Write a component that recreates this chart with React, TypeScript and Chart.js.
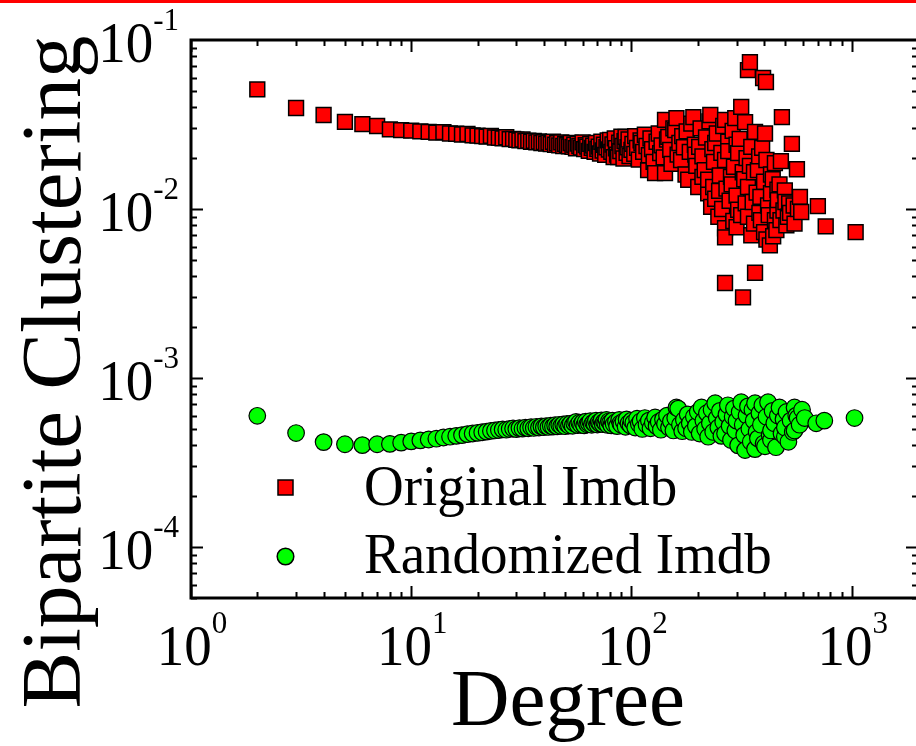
import { useEffect, useRef } from 'react';
import { Chart, registerables } from 'chart.js';

Chart.register(...registerables);

// Original network: degree and bipartite clustering
const originalDegree = [
  2, 3, 4, 5, 6, 7, 8, 9, 10, 11, 12, 13, 14, 15, 16, 17, 18, 19, 20, 21, 22, 23, 24, 25, 26, 27, 28, 29, 30,
  31, 32, 33, 34, 35, 36, 37, 38, 39, 40, 41, 42, 43, 44, 45, 46, 47, 48, 49, 50, 51, 52, 53, 54, 55, 56, 57,
  58, 59, 60, 61, 62, 63, 64, 65, 66, 67, 68, 69, 70, 71, 72, 73, 74, 75, 76, 77, 78, 79, 80, 81, 82, 83, 84,
  85, 86, 87, 88, 89, 90, 91, 92, 93, 94, 95, 96, 97, 98, 100, 101, 103, 104, 106, 108, 110, 111, 113, 115,
  117, 119, 120, 122, 124, 126, 128, 130, 133, 135, 137, 140, 142, 142, 145, 147, 150, 152, 155, 158, 160,
  162, 165, 168, 170, 173, 176, 178, 181, 184, 187, 191, 194, 195, 197, 201, 203, 206, 210, 210, 215, 218,
  223, 223, 226, 228, 230, 233, 235, 237, 240, 240, 244, 248, 250, 252, 256, 258, 261, 266, 266, 266, 266,
  266, 270, 275, 275, 279, 283, 285, 288, 290, 292, 296, 300, 300, 300, 305, 305, 310, 315, 315, 320, 321,
  325, 328, 330, 333, 338, 338, 338, 345, 345, 350, 350, 355, 360, 360, 364, 364, 370, 375, 380, 381, 385,
  387, 392, 396, 400, 400, 404, 408, 410, 410, 417, 420, 425, 430, 430, 438, 440, 448, 448, 455, 460, 460,
  462, 470, 475, 477, 482, 490, 497, 500, 505, 513, 520, 525, 535, 545, 550, 564, 570, 582, 590, 702, 762,
  1042,
];
const originalClustering = [
  0.051, 0.0396, 0.036, 0.0328, 0.0318, 0.031, 0.0296, 0.0293, 0.0291, 0.0288, 0.0286, 0.0283, 0.0285,
  0.028, 0.0279, 0.0276, 0.0278, 0.0273, 0.0272, 0.027, 0.0268, 0.0271, 0.0265, 0.0264, 0.0262, 0.0266,
  0.0259, 0.026, 0.0257, 0.0255, 0.0258, 0.0252, 0.0254, 0.025, 0.0253, 0.0248, 0.0251, 0.0246, 0.0249,
  0.0244, 0.0247, 0.0242, 0.025, 0.024, 0.0245, 0.0238, 0.0248, 0.0236, 0.0243, 0.0239, 0.0235, 0.0246,
  0.0233, 0.024, 0.0229, 0.0244, 0.0236, 0.0231, 0.0248, 0.0226, 0.0239, 0.0234, 0.0221, 0.0243, 0.023,
  0.0237, 0.0218, 0.0246, 0.0227, 0.0234, 0.0213, 0.025, 0.0222, 0.024, 0.0209, 0.0232, 0.0255, 0.0225,
  0.0256, 0.0218, 0.0241, 0.0203, 0.0262, 0.0229, 0.021, 0.0203, 0.0247, 0.022, 0.0268, 0.0236, 0.0199,
  0.0252, 0.0267, 0.0215, 0.0232, 0.0258, 0.0206, 0.0224, 0.0243, 0.0212, 0.027, 0.023, 0.0196, 0.0255,
  0.0246, 0.0218, 0.0275, 0.0236, 0.017, 0.0208, 0.0262, 0.0226, 0.019, 0.0163, 0.025, 0.028, 0.0214,
  0.0238, 0.0202, 0.0163, 0.0337, 0.0258, 0.0267, 0.0224, 0.0185, 0.03, 0.0293, 0.0345, 0.021, 0.0246,
  0.0195, 0.027, 0.0232, 0.016, 0.0288, 0.0149, 0.0218, 0.032, 0.035, 0.024, 0.021, 0.018, 0.0135, 0.0233,
  0.03, 0.0205, 0.0155, 0.017, 0.0265, 0.0124, 0.0149, 0.033, 0.036, 0.0103, 0.0226, 0.0135, 0.019, 0.0246,
  0.0115, 0.028, 0.009, 0.0128, 0.0158, 0.0215, 0.01, 0.031, 0.0337, 0.0195, 0.0077, 0.0068, 0.00365,
  0.0132, 0.025, 0.022, 0.0112, 0.0155, 0.014, 0.029, 0.0085, 0.0178, 0.0345, 0.012, 0.0078, 0.024, 0.0099,
  0.0214, 0.026, 0.0402, 0.0092, 0.0165, 0.003, 0.015, 0.0327, 0.0108, 0.02, 0.0664, 0.009, 0.0135, 0.074,
  0.018, 0.0233, 0.007, 0.011, 0.0165, 0.0082, 0.0286, 0.0042, 0.0125, 0.017, 0.0205, 0.0095, 0.0118,
  0.0086, 0.023, 0.0596, 0.0073, 0.0145, 0.028, 0.0564, 0.0195, 0.0066, 0.0105, 0.0092, 0.0061, 0.0124,
  0.016, 0.015, 0.0069, 0.0086, 0.0187, 0.0075, 0.0098, 0.013, 0.0113, 0.014, 0.0086, 0.0192, 0.035,
  0.0098, 0.0129, 0.011, 0.008, 0.009, 0.0108, 0.0095, 0.0243, 0.0105, 0.0082, 0.0172, 0.01, 0.0118,
  0.0096, 0.0104, 0.0079, 0.0073,
];

// Randomized network: degree and bipartite clustering
const randomizedDegree = [
  2, 3, 4, 5, 6, 7, 8, 9, 10, 11, 12, 13, 14, 15, 16, 17, 18, 19, 20, 21, 22, 23, 24, 25, 26, 27, 28, 29, 30,
  31, 32, 33, 34, 35, 36, 37, 38, 39, 40, 41, 42, 43, 44, 45, 46, 47, 48, 49, 50, 51, 52, 53, 54, 55, 56, 57,
  58, 59, 60, 61, 62, 63, 64, 65, 66, 67, 68, 69, 70, 71, 72, 73, 74, 75, 76, 77, 78, 79, 80, 81, 82, 83, 85,
  86, 88, 89, 90, 92, 94, 95, 97, 99, 100, 102, 104, 106, 108, 110, 112, 115, 117, 120, 122, 125, 128, 130,
  133, 136, 139, 142, 145, 148, 151, 155, 158, 160, 163, 166, 170, 173, 177, 180, 184, 188, 192, 196, 200,
  204, 208, 212, 216, 220, 223, 227, 231, 235, 240, 244, 248, 252, 256, 261, 266, 270, 274, 279, 283, 288,
  292, 296, 300, 305, 310, 315, 320, 325, 328, 333, 338, 343, 348, 354, 359, 364, 364, 370, 375, 381, 387,
  393, 398, 404, 410, 417, 424, 430, 430, 437, 445, 453, 462, 470, 480, 490, 497, 497, 506, 516, 528, 540,
  550, 550, 560, 568, 580, 595, 612, 690, 751, 1030,
];
const randomizedClustering = [
  5.98e-4, 4.73e-4, 4.18e-4, 4.06e-4, 4.01e-4, 4.06e-4, 4.08e-4, 4.15e-4, 4.22e-4, 4.28e-4, 4.33e-4,
  4.38e-4, 4.45e-4, 4.5e-4, 4.55e-4, 4.6e-4, 4.66e-4, 4.7e-4, 4.74e-4, 4.78e-4, 4.82e-4, 4.87e-4, 4.9e-4,
  4.93e-4, 4.97e-4, 4.95e-4, 5.0e-4, 5.03e-4, 4.99e-4, 5.06e-4, 5.02e-4, 5.09e-4, 5.05e-4, 5.12e-4,
  5.07e-4, 5.15e-4, 5.1e-4, 5.18e-4, 5.12e-4, 5.2e-4, 5.14e-4, 5.23e-4, 5.16e-4, 5.26e-4, 5.18e-4,
  5.29e-4, 5.21e-4, 5.32e-4, 5.19e-4, 5.35e-4, 5.24e-4, 5.38e-4, 5.22e-4, 5.41e-4, 5.5e-4, 5.27e-4,
  5.44e-4, 5.3e-4, 5.47e-4, 5.25e-4, 5.52e-4, 5.33e-4, 5.4e-4, 5.56e-4, 5.29e-4, 5.45e-4, 5.36e-4, 5.6e-4,
  5.31e-4, 5.48e-4, 5.38e-4, 5.62e-4, 5.34e-4, 5.51e-4, 5.42e-4, 5.66e-4, 5.28e-4, 5.55e-4, 5.45e-4,
  5.25e-4, 5.6e-4, 5.35e-4, 5.5e-4, 5.2e-4, 5.65e-4, 5.4e-4, 5.3e-4, 5.55e-4, 5.15e-4, 5.7e-4, 5.4e-4,
  5.25e-4, 5.6e-4, 5.45e-4, 5.1e-4, 5.75e-4, 5.35e-4, 5.55e-4, 5.0e-4, 5.8e-4, 5.3e-4, 5.6e-4, 5.05e-4,
  5.45e-4, 5.85e-4, 5.2e-4, 5.5e-4, 4.95e-4, 5.7e-4, 5.35e-4, 6.0e-4, 5.1e-4, 5.55e-4, 4.9e-4, 5.8e-4,
  6.7e-4, 6.6e-4, 5.3e-4, 4.85e-4, 5.65e-4, 5.05e-4, 6.1e-4, 5.4e-4, 4.8e-4, 5.9e-4, 5.2e-4, 6.3e-4,
  4.7e-4, 6.7e-4, 5.6e-4, 5.0e-4, 6.2e-4, 4.5e-4, 5.4e-4, 6.5e-4, 4.8e-4, 7.1e-4, 5.8e-4, 5.1e-4, 6.4e-4,
  4.55e-4, 5.5e-4, 4.7e-4, 6.1e-4, 6.9e-4, 5.2e-4, 4.3e-4, 5.9e-4, 6.6e-4, 4.9e-4, 5.6e-4, 4.0e-4, 6.3e-4,
  7.2e-4, 5.3e-4, 4.6e-4, 3.75e-4, 6.0e-4, 6.8e-4, 5.0e-4, 4.2e-4, 6.5e-4, 5.6e-4, 3.8e-4, 7.1e-4, 4.8e-4,
  4.4e-4, 6.2e-4, 5.3e-4, 6.9e-4, 4.1e-4, 3.95e-4, 5.9e-4, 7.2e-4, 4.6e-4, 4.3e-4, 4.9e-4, 6.4e-4, 5.4e-4,
  3.9e-4, 6.0e-4, 6.7e-4, 4.7e-4, 5.7e-4, 4.5e-4, 5.1e-4, 6.3e-4, 4.2e-4, 5.6e-4, 4.8e-4, 4.9e-4, 6.7e-4,
  6.0e-4, 5.8e-4, 5.3e-4, 6.5e-4, 5.8e-4, 5.4e-4, 5.6e-4, 5.8e-4,
];

const seriesLabels = ['Original Imdb', 'Randomized Imdb'];
const xExponents = [0, 1, 2, 3];
const yExponents = [-1, -2, -3, -4];
const xTitle = 'Degree';
const yTitle = 'Bipartite Clustering';

const SERIF = '"Liberation Serif", "Times New Roman", serif';
const CANVAS_W = 930;
const CANVAS_H = 746;

// text drawn slightly taller than the font's natural proportions
function tallText(ctx: CanvasRenderingContext2D, text: string, x: number, y: number, sy: number) {
  ctx.save();
  ctx.translate(x, y);
  ctx.scale(1, sy);
  ctx.fillText(text, 0, 0);
  ctx.restore();
}

const framePlugin = {
  id: 'framePlugin',
  afterDraw(chart: any) {
    const { ctx, chartArea: a, scales } = chart;
    const x = scales.x;
    const y = scales.y;
    ctx.save();

    // mirrored inward ticks on all four sides
    ctx.strokeStyle = '#000';
    ctx.lineWidth = 2;
    ctx.beginPath();
    for (let d = 0; d <= 3; d++) {
      for (let m = 1; m <= 9; m++) {
        const v = m * Math.pow(10, d);
        if (v < x.min || v > x.max) continue;
        const px = Math.round(x.getPixelForValue(v)) + 0.5;
        const len = m === 1 ? 12 : 6;
        ctx.moveTo(px, a.bottom);
        ctx.lineTo(px, a.bottom - len);
        ctx.moveTo(px, a.top);
        ctx.lineTo(px, a.top + len);
      }
    }
    for (let d = -5; d <= -2; d++) {
      for (let m = 1; m <= 9; m++) {
        const v = m * Math.pow(10, d);
        if (v < y.min * 0.999 || v > y.max * 1.001) continue;
        const py = Math.round(y.getPixelForValue(v)) + 0.5;
        const len = m === 1 ? 12 : 6;
        ctx.moveTo(a.left, py);
        ctx.lineTo(a.left + len, py);
        ctx.moveTo(a.right, py);
        ctx.lineTo(a.right - len, py);
      }
    }
    ctx.stroke();

    // frame
    ctx.lineWidth = 3;
    ctx.strokeRect(a.left, a.top, a.right - a.left, a.bottom - a.top);

    ctx.fillStyle = '#000';
    ctx.textAlign = 'left';
    ctx.textBaseline = 'alphabetic';
    const baseFont = `55px ${SERIF}`;
    const supFont = `31px ${SERIF}`;
    const stretch = 1.03;

    // x tick labels 10^n
    xExponents.forEach((e) => {
      const px = x.getPixelForValue(Math.pow(10, e));
      const sup = String(e);
      ctx.font = baseFont;
      const wb = ctx.measureText('10').width;
      ctx.font = supFont;
      const ws = ctx.measureText(sup).width;
      const left = px - (wb + ws) / 2 + 1;
      ctx.font = baseFont;
      tallText(ctx, '10', left, a.bottom + 67, stretch);
      ctx.font = supFont;
      tallText(ctx, sup, left + wb, a.bottom + 35, stretch);
    });

    // y tick labels 10^n
    yExponents.forEach((e) => {
      const py = y.getPixelForValue(Math.pow(10, e));
      const sup = String(e);
      ctx.font = baseFont;
      const wb = ctx.measureText('10').width;
      ctx.font = supFont;
      const ws = ctx.measureText(sup).width;
      const right = a.left - 12;
      const left = right - ws - wb;
      ctx.font = baseFont;
      tallText(ctx, '10', left, py + 22, stretch);
      ctx.font = supFont;
      tallText(ctx, sup, left + wb, py - 10, stretch);
    });

    // axis titles
    ctx.font = `81px ${SERIF}`;
    ctx.textAlign = 'center';
    ctx.fillText(xTitle, 568, 725);

    ctx.save();
    ctx.font = `85px ${SERIF}`;
    ctx.translate(80, 372);
    ctx.rotate(-Math.PI / 2);
    ctx.fillText(yTitle, 0, 0);
    ctx.restore();

    // legend
    const ds = chart.data.datasets;
    ctx.lineWidth = 1.5;
    ctx.strokeStyle = '#000';
    ctx.fillStyle = ds[0].backgroundColor;
    ctx.beginPath();
    ctx.rect(278, 480, 15, 15);
    ctx.fill();
    ctx.stroke();
    ctx.fillStyle = ds[1].backgroundColor;
    ctx.beginPath();
    ctx.arc(285.5, 556.5, 8.3, 0, Math.PI * 2);
    ctx.fill();
    ctx.stroke();

    ctx.fillStyle = '#000';
    ctx.textAlign = 'left';
    ctx.font = `55px ${SERIF}`;
    tallText(ctx, ds[0].label, 364, 505, 1.04);
    tallText(ctx, ds[1].label, 364, 573, 1.04);

    ctx.restore();
  },
};

export default function App() {
  const canvasRef = useRef<HTMLCanvasElement | null>(null);

  useEffect(() => {
    const canvas = canvasRef.current;
    if (!canvas) return;
    const chart = new Chart(canvas, {
      type: 'scatter',
      data: {
        datasets: [
          {
            label: seriesLabels[0],
            data: originalDegree.map((k, i) => ({ x: k, y: originalClustering[i] })),
            pointStyle: 'rect',
            pointRadius: 10.5,
            pointHoverRadius: 10.5,
            backgroundColor: '#ff0000',
            borderColor: '#000000',
            borderWidth: 1.5,
            showLine: false,
          },
          {
            label: seriesLabels[1],
            data: randomizedDegree.map((k, i) => ({ x: k, y: randomizedClustering[i] })),
            pointStyle: 'circle',
            pointRadius: 8.3,
            pointHoverRadius: 8.3,
            backgroundColor: '#00ff00',
            borderColor: '#000000',
            borderWidth: 1.2,
            showLine: false,
          },
        ],
      },
      options: {
        responsive: false,
        animation: false,
        devicePixelRatio: 1,
        layout: { padding: { top: 40, right: CANVAS_W - 920.6, left: 0, bottom: 0 } },
        plugins: {
          legend: { display: false },
          tooltip: { enabled: false },
        },
        scales: {
          x: {
            type: 'logarithmic',
            min: 1,
            max: 2000,
            ticks: { display: false },
            grid: { display: false, drawTicks: false },
            border: { display: false },
            afterFit: (s: any) => {
              s.height = 148;
            },
          },
          y: {
            type: 'logarithmic',
            min: 5e-5,
            max: 0.1,
            ticks: { display: false },
            grid: { display: false, drawTicks: false },
            border: { display: false },
            afterFit: (s: any) => {
              s.width = 191;
            },
          },
        },
      },
      plugins: [framePlugin],
    });
    return () => chart.destroy();
  }, []);

  return (
    <div
      style={{
        position: 'fixed',
        left: 0,
        top: 0,
        width: 916,
        height: 746,
        overflow: 'hidden',
        background: '#ffffff',
      }}
    >
      <canvas
        ref={canvasRef}
        width={CANVAS_W}
        height={CANVAS_H}
        style={{ display: 'block', width: CANVAS_W, height: CANVAS_H }}
      />
      <div
        style={{
          position: 'absolute',
          left: 0,
          top: 0,
          width: 916,
          height: 3,
          background: '#ff0000',
        }}
      />
    </div>
  );
}
